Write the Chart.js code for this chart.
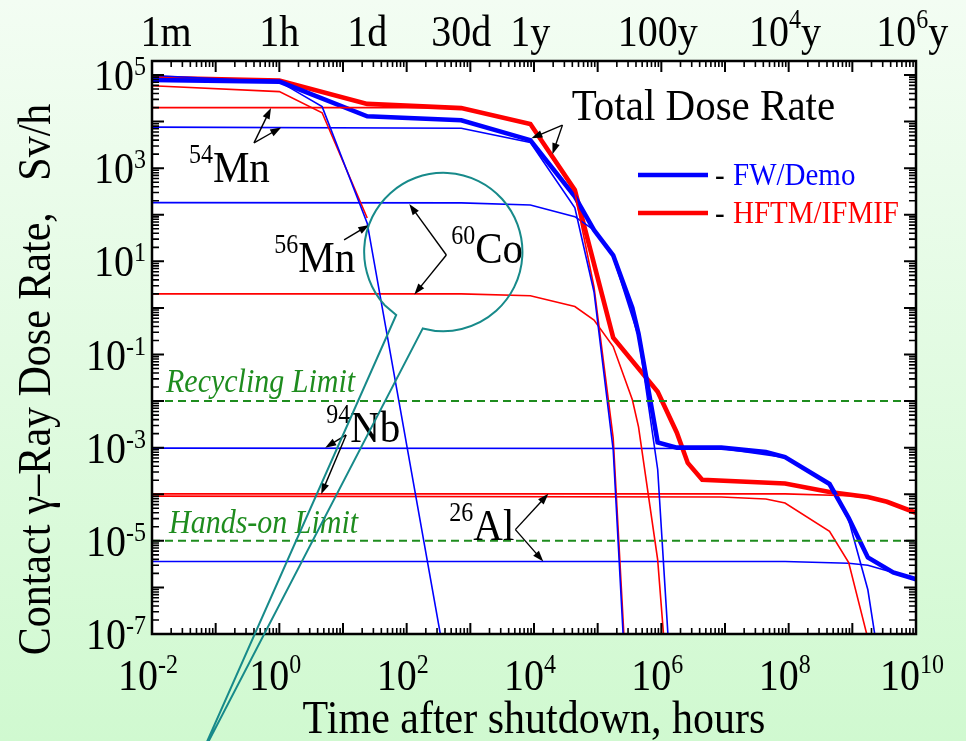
<!DOCTYPE html>
<html>
<head>
<meta charset="utf-8">
<script src="https://cdn.jsdelivr.net/npm/chart.js@4.4.1/dist/chart.umd.min.js"></script>
<style>
  html, body { margin: 0; padding: 0; }
  body { width: 966px; height: 741px; overflow: hidden;
         background: linear-gradient(to bottom, #f3fdf3, #d0f9d0); }
  canvas { display: block; }
</style>
</head>
<body>
<canvas id="doseChart" width="966" height="741"></canvas>
<script>
// time after shutdown in hours, dose rate in Sv/h
const fwTotalT = [0.01, 1, 24, 720, 8766, 43830, 87660, 175320, 350640, 438300, 876600, 1753200, 8766000, 43830000, 87660000, 438300000, 876600000, 1753200000, 4383000000, 1e10];
const fwTotalV = [7.8e4, 7.2e4, 1.3e4, 1.07e4, 4.0e3, 245, 47, 13.5, 1.0, 0.28, 1.3e-3, 1.0e-3, 1.0e-3, 8.1e-4, 6.3e-4, 1.66e-4, 3.1e-5, 4.4e-6, 2.1e-6, 1.5e-6];
const hfTotalT = [0.01, 1, 24, 720, 8766, 43830, 175320, 876600, 1753200, 2600000, 4383000, 87660000, 438300000, 1753200000, 3500000000, 1e10];
const hfTotalV = [8.7e4, 7.6e4, 2.4e4, 1.95e4, 8.9e3, 339, 0.23, 0.0158, 2.1e-3, 4.7e-4, 2.04e-4, 1.7e-4, 1.12e-4, 8.7e-5, 6.9e-5, 4.0e-5];

const mn56FwT = [0.01, 1, 4.7, 24, 720];
const mn56FwV = [9.8e4, 7.2e4, 2.1e4, 66, 3e-10];
const mn56HfT = [0.01, 1, 4.7, 24];
const mn56HfV = [5.9e4, 4.4e4, 1.55e4, 85];

const mn54T = [0.01, 720, 8766, 43830, 87660, 175320, 262980];
const mn54FwV = [7.6e3, 7.2e3, 3.55e3, 141, 2.2, 9e-4, 3e-8];
const mn54HfV = [2.0e4, 2.0e4, 8.5e3, 300, 2.8, 1.6e-3, 6e-8];

const co60FwT = [0.01, 720, 8766, 43830, 87660, 175320, 438300, 876600, 1753200];
const co60FwV = [182, 180, 162, 91, 47, 12.6, 0.245, 3.4e-4, 8e-11];
const co60HfT = [0.01, 720, 8766, 43830, 87660, 175320, 350640, 438300, 876600, 1200000];
const co60HfV = [2.0, 2.0, 1.82, 1.07, 0.55, 0.148, 0.0107, 2.8e-3, 3.9e-6, 1.6e-8];

const nb94FwT = [0.01, 8766000, 87660000, 438300000, 876600000, 1753200000, 3500000000];
const nb94FwV = [9.8e-4, 9.6e-4, 6.2e-4, 1.6e-4, 2.8e-5, 8.9e-7, 2e-9];
const nb94HfT = [0.01, 8766000, 43830000, 87660000, 438300000, 876600000, 1753200000];
const nb94HfV = [9.1e-5, 8.7e-5, 7.9e-5, 6.5e-5, 1.6e-5, 3.4e-6, 8e-8];

const al26T = [0.01, 87660000, 876600000, 1753200000, 4383000000, 1e10];
const al26FwV = [3.6e-6, 3.6e-6, 3.3e-6, 3.0e-6, 2.1e-6, 1.45e-6];
const al26HfV = [1.02e-4, 1.02e-4, 9.3e-5, 8.4e-5, 6.2e-5, 3.9e-5];

const recyclingLimit = 1e-2;
const handsOnLimit = 1e-5;

const xExponents = [-2, 0, 2, 4, 6, 8, 10];
const yExponents = [5, 3, 1, -1, -3, -5, -7];
const timeMarks = [1 / 60, 1, 24, 720, 8766, 876600, 87660000, 8766000000];
const timeNames = [['1m'], ['1h'], ['1d'], ['30d'], ['1y'], ['100y'], ['10', '4', 'y'], ['10', '6', 'y']];

const BLUE = '#0000ff', RED = '#ff0000', GREEN = '#1e8c1e', TEAL = '#178a8a';
const serif = '"Liberation Serif", "Times New Roman", serif';
const TALL = 1.1; // glyphs are drawn a little taller than wide

function pts(t, v) { return t.map((x, i) => ({ x: x, y: v[i] })); }
function flat(v) { return [{ x: 1e-2, y: v }, { x: 1e10, y: v }]; }

const thin = 1.6, thick = 4.6;
// first dataset ends up on top
const datasets = [
  { data: flat(recyclingLimit), borderColor: GREEN, borderWidth: 2, borderDash: [8, 5] },
  { data: flat(handsOnLimit), borderColor: GREEN, borderWidth: 2, borderDash: [8, 5] },
  { data: pts(mn56FwT, mn56FwV), borderColor: BLUE, borderWidth: thin },
  { data: pts(mn56HfT, mn56HfV), borderColor: RED, borderWidth: thin },
  { data: pts(mn54T, mn54FwV), borderColor: BLUE, borderWidth: thin },
  { data: pts(mn54T, mn54HfV), borderColor: RED, borderWidth: thin },
  { data: pts(co60FwT, co60FwV), borderColor: BLUE, borderWidth: thin },
  { data: pts(co60HfT, co60HfV), borderColor: RED, borderWidth: thin },
  { data: pts(nb94FwT, nb94FwV), borderColor: BLUE, borderWidth: thin },
  { data: pts(nb94HfT, nb94HfV), borderColor: RED, borderWidth: thin },
  { data: pts(al26T, al26FwV), borderColor: BLUE, borderWidth: thin },
  { data: pts(al26T, al26HfV), borderColor: RED, borderWidth: thin },
  { label: 'FW/Demo', data: pts(fwTotalT, fwTotalV), borderColor: BLUE, borderWidth: thick },
  { label: 'HFTM/IFMIF', data: pts(hfTotalT, hfTotalV), borderColor: RED, borderWidth: thick }
];
datasets.forEach(d => { d.fill = false; d.pointRadius = 0; d.tension = 0; d.clip = 0; });

// label anchors, in (hours, Sv/h)
const notes = [
  { mass: '', sym: 'Total Dose Rate', at: [3.9e4, 1.08e4], tail: [2.8e4, 8.4e3], tips: [[9.1e3, 4.4e3], [1.95e4, 2.0e3]] },
  { mass: '54', sym: 'Mn', at: [0.038, 506], tail: [0.40, 3.5e3], tips: [[0.74, 1.96e4], [1.07, 7.5e3]] },
  { mass: '56', sym: 'Mn', at: [0.83, 5.9], tail: [10.4, 28.8], tips: [[25.8, 60.4]] },
  { mass: '60', sym: 'Co', at: [502, 9.25], tail: [420, 13.7], tips: [[110, 170], [132, 1.95]] },
  { mass: '94', sym: 'Nb', at: [5.45, 1.33e-3], tail: [11.2, 1.88e-3], tips: [[5.25, 1.0e-3], [4.54, 1.0e-4]] },
  { mass: '26', sym: 'Al', at: [468, 1.05e-5], tail: [5.1e3, 1.74e-5], tips: [[1.68e4, 1.02e-4], [1.4e4, 3.6e-6]] }
];
const bubble = { centre: [376, 15.9], edge: [6.58e3, 15.9], notch: [68.5, 0.708], apex: [0.0548, 2e-10] };

function runs(ctx, list, x, y, align) {
  let w = 0;
  for (const r of list) { ctx.font = (r[3] || '') + r[1] + 'px ' + serif; w += ctx.measureText(r[0]).width; }
  let cx = align === 'center' ? x - w / 2 : align === 'right' ? x - w : x;
  ctx.textAlign = 'left';
  ctx.textBaseline = 'alphabetic';
  for (const r of list) {
    ctx.font = (r[3] || '') + r[1] + 'px ' + serif;
    ctx.save();
    ctx.translate(cx, y - (r[2] || 0));
    ctx.scale(1, TALL);
    ctx.fillText(r[0], 0, 0);
    ctx.restore();
    cx += ctx.measureText(r[0]).width;
  }
}

function arrow(ctx, x1, y1, x2, y2) {
  const a = Math.atan2(y2 - y1, x2 - x1), L = 11, W = 3.8;
  ctx.beginPath();
  ctx.moveTo(x1, y1);
  ctx.lineTo(x2 - L * 0.8 * Math.cos(a), y2 - L * 0.8 * Math.sin(a));
  ctx.stroke();
  ctx.beginPath();
  ctx.moveTo(x2, y2);
  ctx.lineTo(x2 - L * Math.cos(a) + W * Math.sin(a), y2 - L * Math.sin(a) - W * Math.cos(a));
  ctx.lineTo(x2 - L * Math.cos(a) - W * Math.sin(a), y2 - L * Math.sin(a) + W * Math.cos(a));
  ctx.closePath();
  ctx.fill();
}

const decor = {
  id: 'decor',
  beforeDraw(chart) {
    const { ctx, chartArea: a } = chart;
    ctx.save();
    ctx.fillStyle = '#ffffff';
    ctx.fillRect(a.left, a.top, a.right - a.left, a.bottom - a.top);
    ctx.restore();
  },
  afterDatasetsDraw(chart) {
    const { ctx, chartArea: a } = chart;
    const sx = chart.scales.x, sy = chart.scales.y;
    const px = t => sx.getPixelForValue(t);
    const py = v => sy.getPixelForValue(v);
    ctx.save();

    // inward ticks on all four sides
    ctx.strokeStyle = '#000';
    for (let e = -2; e <= 10; e++) {
      for (let m = 1; m <= 9; m++) {
        const v = m * Math.pow(10, e);
        if (v > 1e10 * 1.001) break;
        const x = px(v), len = m === 1 ? 11 : 6;
        ctx.lineWidth = m === 1 ? 2 : 1.6;
        ctx.beginPath();
        ctx.moveTo(x, a.bottom); ctx.lineTo(x, a.bottom - len);
        ctx.moveTo(x, a.top); ctx.lineTo(x, a.top + len);
        ctx.stroke();
      }
    }
    for (let e = -7; e <= 5; e++) {
      for (let m = 1; m <= 9; m++) {
        const v = m * Math.pow(10, e);
        if (v > sy.max * 0.999) break;
        const y = py(v), len = m === 1 ? 12 : 7;
        ctx.lineWidth = m === 1 ? 2 : 1.6;
        ctx.beginPath();
        ctx.moveTo(a.left, y); ctx.lineTo(a.left + len, y);
        ctx.moveTo(a.right, y); ctx.lineTo(a.right - len, y);
        ctx.stroke();
      }
    }
    ctx.lineWidth = 2.5;
    ctx.strokeRect(a.left, a.top, a.right - a.left, a.bottom - a.top);

    // tick labels
    ctx.fillStyle = '#000';
    xExponents.forEach(e => runs(ctx, [['10', 40], [String(e), 24, 17]], px(Math.pow(10, e)) - 4, a.bottom + 56, 'center'));
    yExponents.forEach(e => runs(ctx, [['10', 40], [String(e), 24, 15]], a.left - 6, py(Math.pow(10, e)) + 15, 'right'));
    timeMarks.forEach((t, i) => {
      const n = timeNames[i];
      const list = n.length === 1 ? [[n[0], 40]] : [[n[0], 40], [n[1], 24, 18], [n[2], 40]];
      runs(ctx, list, px(t), a.top - 15, 'center');
    });

    // axis titles
    runs(ctx, [['Time after shutdown, hours', 42]], (a.left + a.right) / 2, a.bottom + 99, 'center');
    ctx.save();
    ctx.translate(50, (a.top + a.bottom) / 2 + 32);
    ctx.rotate(-Math.PI / 2);
    runs(ctx, [['Contact \u03b3\u2013Ray Dose Rate,   Sv/h', 42]], 0, 0, 'center');
    ctx.restore();

    // limit captions
    ctx.fillStyle = GREEN;
    runs(ctx, [['Recycling Limit', 30, 0, 'italic ']], px(0.0166), py(0.0158), 'left');
    runs(ctx, [['Hands-on Limit', 30, 0, 'italic ']], px(0.0185), py(1.48e-5), 'left');

    // nuclide labels and pointers
    ctx.fillStyle = '#000';
    ctx.strokeStyle = '#000';
    ctx.lineWidth = 1.4;
    notes.forEach(n => {
      const x = px(n.at[0]), y = py(n.at[1]);
      if (n.mass) runs(ctx, [[n.mass, 24, 19], [n.sym, 41]], x, y, 'left');
      else runs(ctx, [[n.sym, 41]], x, y, 'left');
      n.tips.forEach(tp => arrow(ctx, px(n.tail[0]), py(n.tail[1]), px(tp[0]), py(tp[1])));
    });

    // speech bubble round the 60Co pair
    const cx = px(bubble.centre[0]), cy = py(bubble.centre[1]);
    const r = px(bubble.edge[0]) - cx;
    const a0 = 138 * Math.PI / 180, a1 = (105 + 360) * Math.PI / 180;
    const ax = px(bubble.apex[0]), ay = py(bubble.apex[1]);
    ctx.strokeStyle = TEAL;
    ctx.lineWidth = 2;
    ctx.beginPath();
    ctx.moveTo(ax, ay);
    ctx.lineTo(px(bubble.notch[0]), py(bubble.notch[1]));
    ctx.lineTo(cx + r * Math.cos(a0), cy + r * Math.sin(a0));
    ctx.arc(cx, cy, r, a0, a1, false);
    ctx.lineTo(ax, ay);
    ctx.stroke();

    // legend
    const lx = a.right - 278;
    [['FW/Demo', BLUE, 114], ['HFTM/IFMIF', RED, 152]].forEach(([name, col, dy]) => {
      ctx.strokeStyle = col;
      ctx.lineWidth = 4.6;
      ctx.beginPath();
      ctx.moveTo(lx, a.top + dy); ctx.lineTo(lx + 70, a.top + dy);
      ctx.stroke();
      ctx.fillStyle = '#000';
      runs(ctx, [['-', 29]], lx + 77, a.top + dy + 10, 'left');
      ctx.fillStyle = col;
      runs(ctx, [[name, 29]], lx + 95, a.top + dy + 10, 'left');
    });
    ctx.restore();
  }
};

new Chart(document.getElementById('doseChart').getContext('2d'), {
  type: 'line',
  data: { datasets: datasets },
  options: {
    responsive: false,
    animation: false,
    devicePixelRatio: 1,
    layout: { padding: { left: 152, top: 61, right: 50, bottom: 107 } },
    plugins: { legend: { display: false }, tooltip: { enabled: false } },
    scales: {
      x: { type: 'logarithmic', min: 1e-2, max: 1e10, display: false },
      y: { type: 'logarithmic', min: 1e-7, max: 2e5, display: false }
    }
  },
  plugins: [decor]
});
</script>
</body>
</html>
